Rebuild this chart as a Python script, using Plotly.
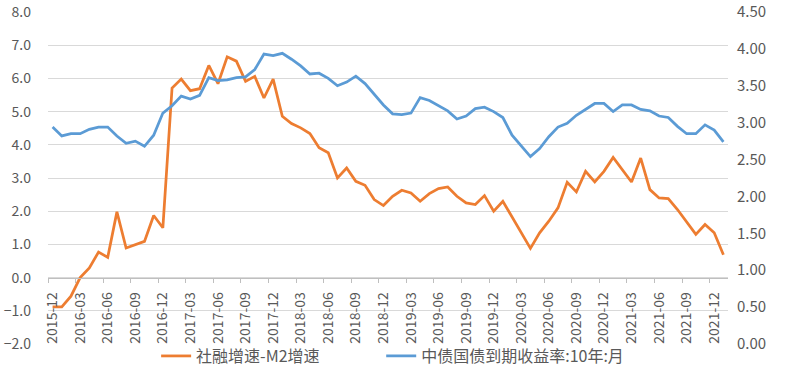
import plotly.graph_objects as go

months = [f"{y}-{m:02d}" for y in range(2015, 2023) for m in range(1, 13)]
months = months[months.index("2015-12"):months.index("2022-01") + 1]

tsf_minus_m2 = [
    -0.88, -0.88, -0.56, 0.0, 0.29, 0.77, 0.61, 1.98, 0.89, 0.99, 1.09, 1.87, 1.50,
    5.71, 5.98, 5.63, 5.69, 6.39, 5.84, 6.65, 6.52, 5.91, 6.06, 5.41, 5.98,
    4.86, 4.64, 4.51, 4.34, 3.91, 3.76, 3.00, 3.30, 2.90, 2.78, 2.35, 2.17,
    2.45, 2.63, 2.55, 2.30, 2.53, 2.68, 2.73, 2.45, 2.25, 2.20, 2.47, 2.00,
    2.30, 1.82, 1.38, 0.88, 1.35, 1.70, 2.10, 2.87, 2.58, 3.20, 2.88, 3.20,
    3.62, 3.25, 2.88, 3.60, 2.65, 2.40, 2.38, 2.05, 1.68, 1.30, 1.60, 1.35, 0.69,
]

cgb_10y = [
    2.94, 2.82, 2.85, 2.85, 2.91, 2.94, 2.94, 2.82, 2.72, 2.75, 2.68, 2.83, 3.13,
    3.23, 3.36, 3.32, 3.37, 3.61, 3.57, 3.58, 3.61, 3.62, 3.72, 3.93, 3.91,
    3.94, 3.86, 3.77, 3.66, 3.67, 3.60, 3.50, 3.55, 3.63, 3.53, 3.39, 3.24,
    3.12, 3.11, 3.13, 3.34, 3.30, 3.23, 3.16, 3.05, 3.09, 3.19, 3.21, 3.15,
    3.07, 2.83, 2.68, 2.54, 2.65, 2.81, 2.94, 2.99, 3.10, 3.18, 3.26, 3.26,
    3.15, 3.24, 3.24, 3.18, 3.16, 3.09, 3.07, 2.95, 2.85, 2.85, 2.97, 2.90, 2.74,
]

name_orange = "社融增速-M2增速"
name_blue = "中债国债到期收益率:10年:月"

FONT = "Noto Sans CJK SC"
GRAY = "#595959"

fig = go.Figure()
fig.add_trace(go.Scatter(x=months, y=tsf_minus_m2, name=name_orange, mode="lines",
                         line=dict(color="#ED7D31", width=2.75), yaxis="y",
                         legend="legend"))
fig.add_trace(go.Scatter(x=months, y=cgb_10y, name=name_blue, mode="lines",
                         line=dict(color="#5B9BD5", width=2.75), yaxis="y2",
                         legend="legend2"))

leg_common = dict(orientation="h", xanchor="left", y=0.015, yanchor="top",
                  font=dict(size=16, color=GRAY), bgcolor="rgba(0,0,0,0)")

fig.update_layout(
    width=785, height=379,
    margin=dict(l=48, r=57, t=12, b=35, autoexpand=False),
    paper_bgcolor="white", plot_bgcolor="white",
    font=dict(family=FONT, color=GRAY, size=14),
    showlegend=True,
    legend=dict(x=0.159, **leg_common),
    legend2=dict(x=0.49, **leg_common),
    xaxis=dict(type="category", range=[-0.5, len(months) - 0.5],
               anchor="free", position=0.2,
               tickmode="linear", tick0=0, dtick=3, tickson="boundaries",
               ticks="outside", ticklen=4, tickcolor="#BFBFBF",
               tickangle=-90, showgrid=False, showline=True, linecolor="#BFBFBF",
               linewidth=1, tickfont=dict(size=14, color=GRAY), ticklabelstandoff=8),
    yaxis=dict(range=[-2, 8], dtick=1, tickformat=".1f", showgrid=True,
               gridcolor="#D9D9D9", gridwidth=1, zeroline=False, showline=False,
               ticks="", ticklabelstandoff=16, tickfont=dict(size=14, color=GRAY)),
    yaxis2=dict(range=[0, 4.5], dtick=0.5, tickformat=".2f", overlaying="y",
                side="right", showgrid=False, zeroline=False, showline=False,
                ticks="", ticklabelstandoff=8, tickfont=dict(size=15, color=GRAY)),
)

fig.write_html("out.html", post_script="document.body.style.margin='0';",
               config={"displayModeBar": False})
